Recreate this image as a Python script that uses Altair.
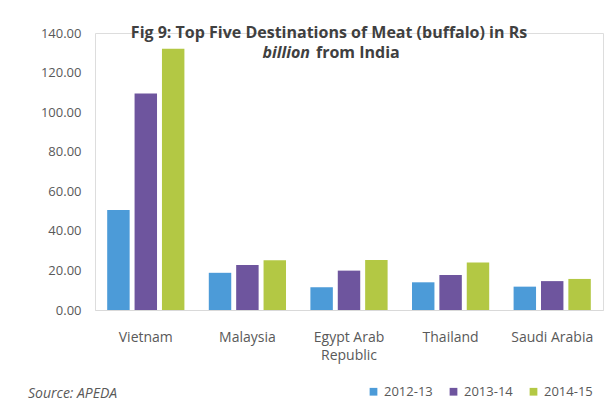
import altair as alt
import pandas as pd

countries = ["Vietnam", "Malaysia", "Egypt Arab Republic", "Thailand", "Saudi Arabia"]
years = ["2012-13", "2013-14", "2014-15"]
v_2012_13 = [50.5, 18.8, 11.5, 14.0, 11.8]
v_2013_14 = [109.4, 22.7, 19.9, 17.7, 14.6]
v_2014_15 = [132.0, 25.2, 25.3, 24.0, 15.7]
colors = ["#4C9BD8", "#6E559E", "#B3C844"]
y_ticks = [0, 20, 40, 60, 80, 100, 120, 140]

rows = []
for i, c in enumerate(countries):
    for yr, vals in zip(years, [v_2012_13, v_2013_14, v_2014_15]):
        rows.append({"country": c, "year": yr, "value": vals[i]})
df = pd.DataFrame(rows)

FONT = "Open Sans"
W, H = 508, 277

bars = alt.Chart(df).mark_bar().encode(
    x=alt.X("country:N", sort=countries,
            scale=alt.Scale(paddingInner=0.24, paddingOuter=0.12),
            axis=alt.Axis(title=None, labelAngle=0, tickSize=0, labelPadding=20,
                          domainColor="#D9D9D9", domainWidth=1,
                          labelColor="#595959", labelFontSize=14, labelFont=FONT,
                          labelLineHeight=18,
                          labelExpr="datum.label == 'Egypt Arab Republic' ? ['Egypt Arab', 'Republic'] : datum.label")),
    xOffset=alt.XOffset("year:N", sort=years, scale=alt.Scale(paddingInner=0.18)),
    y=alt.Y("value:Q", scale=alt.Scale(domain=[0, 140]),
            axis=alt.Axis(title=None, values=y_ticks, format=".2f", grid=False,
                          domain=False, ticks=False, labelPadding=14,
                          labelColor="#595959", labelFontSize=13, labelFont=FONT)),
    color=alt.Color("year:N", scale=alt.Scale(domain=years, range=colors),
                    legend=alt.Legend(title=None, orient="none", direction="horizontal",
                                      legendX=272, legendY=352, symbolType="square",
                                      symbolSize=60, symbolStrokeWidth=0,
                                      labelFontSize=13, labelFont=FONT, labelColor="#595959",
                                      columnPadding=14, labelOffset=4, padding=0)),
)

one = pd.DataFrame({"k": [0]})

title1 = alt.Chart(one).mark_text(
    text="Fig 9: Top Five Destinations of Meat (buffalo) in Rs",
    font=FONT, fontSize=16, fontWeight="bold", color="#404040", align="center", baseline="middle"
).encode(x=alt.value(234), y=alt.value(0))

title2a = alt.Chart(one).mark_text(
    text="billion", font=FONT, fontSize=16, fontWeight="bold", fontStyle="italic",
    color="#404040", align="right", baseline="middle"
).encode(x=alt.value(215), y=alt.value(20))

title2b = alt.Chart(one).mark_text(
    text="from India", font=FONT, fontSize=16, fontWeight="bold",
    color="#404040", align="left", baseline="middle"
).encode(x=alt.value(221), y=alt.value(20))

source = alt.Chart(one).mark_text(
    text="Source: APEDA", font=FONT, fontSize=14, fontStyle="italic",
    color="#595959", align="left", baseline="middle"
).encode(x=alt.value(-67), y=alt.value(361))

chart = alt.layer(bars, title1, title2a, title2b, source).properties(
    width=W, height=H,
    autosize=alt.AutoSizeParams(type="none"),
    padding={"left": 87, "top": 25, "right": 1, "bottom": 91},
).configure_view(stroke=None).configure(background="white")

chart.save("out.html", embed_options={"renderer": "svg", "actions": False})
